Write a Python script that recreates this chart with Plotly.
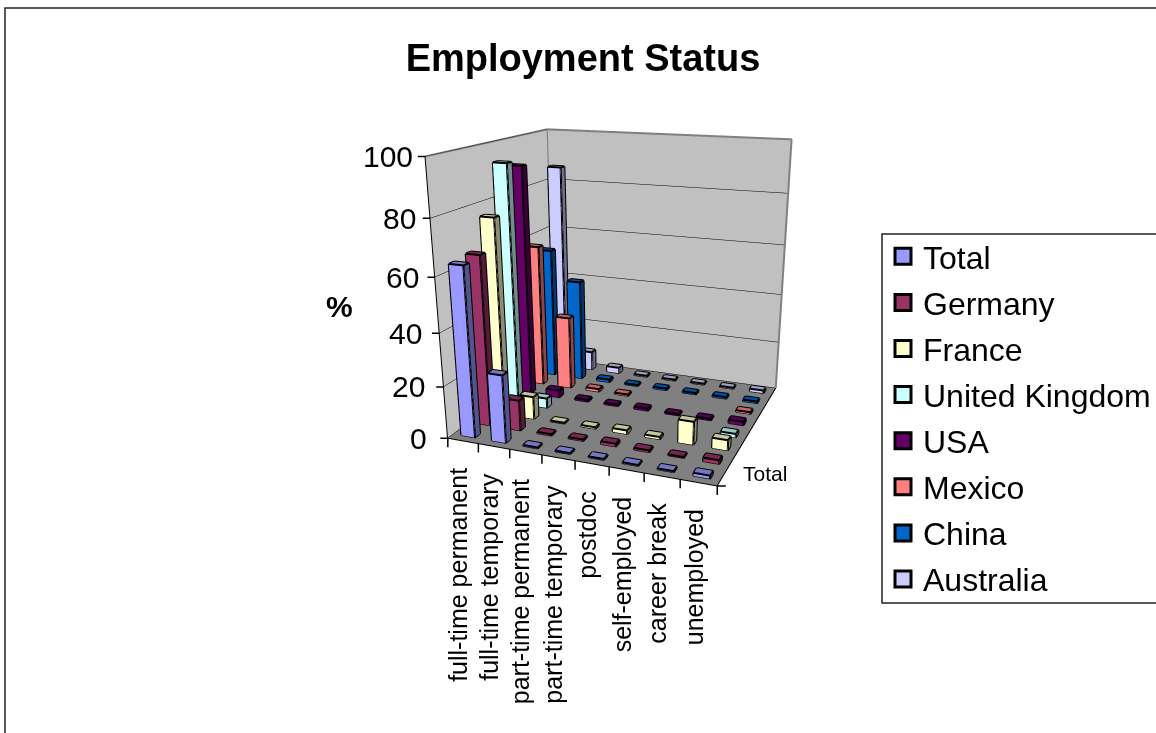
import plotly.graph_objects as go

categories = ["full-time permanent", "full-time temporary", "part-time permanent", "part-time temporary",
              "postdoc", "self-employed", "career break", "unemployed"]
series_names = ["Total", "Germany", "France", "United Kingdom", "USA", "Mexico", "China", "Australia"]
total =     [64, 26, 0.5, 0.5, 0.5, 0.5, 0.5, 1.2]
germany =   [65, 12, 0.7, 0.7, 1.2, 0.8, 0.5, 1.5]
france =    [76, 9, 0.5, 0.7, 1.5, 1.0, 9, 4]
uk =        [93.5, 4, 0, 0, 0, 0, 0, 1.5]
usa =       [91, 3, 0.8, 0.7, 1.0, 0.6, 0.7, 1.5]
mexico =    [58, 30, 1.2, 0.7, 0, 0, 0, 0.8]
china =     [54, 42, 1.2, 0.6, 0.8, 0.7, 0.8, 0.8]
australia = [86, 8, 2.5, 0.6, 0.6, 0.6, 0.6, 1.2]
values = [total, germany, france, uk, usa, mexico, china, australia]
colors = ["#9999FF", "#993366", "#FFFFCC", "#CCFFFF", "#660066", "#FF8080", "#0066CC", "#CCCCFF"]
z_ticks = [0, 20, 40, 60, 80, 100]

EYE = dict(x=1.1423, y=-2.9267, z=0.8777)
CENTER = dict(x=0.8089, y=-2.0532, z=0.5231)
ASPECT = dict(x=1.0078, y=0.8994, z=1)
BAR_X, BAR_Y = 0.45, 0.32

def shade(h, k):
    r, g, b = int(h[1:3], 16), int(h[3:5], 16), int(h[5:7], 16)
    return f"rgb({int(r*k)},{int(g*k)},{int(b*k)})"

fig = go.Figure()
for j, (name, vals, col) in enumerate(zip(series_names, values, colors)):
    X, Y, Z, I, J, K, FC = [], [], [], [], [], [], []
    lx, ly, lz = [], [], []
    for i, v in enumerate(vals):
        if v <= 0:
            continue
        x0, x1 = i + .5 - BAR_X/2, i + .5 + BAR_X/2
        y0, y1 = j + .5 - BAR_Y/2, j + .5 + BAR_Y/2
        b = len(X)
        X += [x0, x1, x1, x0, x0, x1, x1, x0]
        Y += [y0, y0, y1, y1, y0, y0, y1, y1]
        Z += [0, 0, 0, 0, v, v, v, v]
        faces = [((0,1,5),(0,5,4),1.0), ((1,2,6),(1,6,5),.55), ((4,5,6),(4,6,7),.78),
                 ((0,3,7),(0,7,4),.55), ((3,2,6),(3,6,7),.55)]
        for t1, t2, k in faces:
            for t in (t1, t2):
                I.append(b+t[0]); J.append(b+t[1]); K.append(b+t[2]); FC.append(shade(col, k))
        for a, c2 in [(0,1),(1,2),(4,5),(5,6),(6,7),(7,4),(0,4),(1,5),(2,6)]:
            lx += [X[b+a], X[b+c2], None]; ly += [Y[b+a], Y[b+c2], None]; lz += [Z[b+a], Z[b+c2], None]
    fig.add_trace(go.Mesh3d(x=X, y=Y, z=Z, i=I, j=J, k=K, facecolor=FC, flatshading=True, showlegend=False,
                            lighting=dict(ambient=1, diffuse=0, specular=0, roughness=1, fresnel=0), hoverinfo="skip"))
    fig.add_trace(go.Scatter3d(x=lx, y=ly, z=lz, mode="lines", line=dict(color="black", width=4),
                               showlegend=False, hoverinfo="skip"))
nc, ns, zm = len(categories), len(series_names), z_ticks[-1]
fig.add_trace(go.Scatter3d(x=[0, 0, nc, nc, None, 0, 0], y=[0, ns, ns, ns, None, ns, ns], z=[zm, zm, zm, 0, None, 0, zm],
                           mode="lines", line=dict(color="#808080", width=4), showlegend=False, hoverinfo="skip"))
fig.add_trace(go.Scatter3d(x=[0, 0, nc, nc], y=[0, 0, 0, ns], z=[zm, 0, 0, 0],
                           mode="lines", line=dict(color="black", width=2), showlegend=False, hoverinfo="skip"))
for name, col in zip(series_names, colors):
    fig.add_trace(go.Scatter(x=[None], y=[None], mode="markers", name=name, legendgroup=name,
                             marker=dict(symbol="square", size=16, color=col, line=dict(color="black", width=3))))

FONT = "Liberation Sans, Arial, sans-serif"
ann = [dict(x=i+.5, y=0, z=0, text=c3, showarrow=False, textangle=-90, yanchor="top", xanchor="center",
            yshift=-25, xshift=-5, font=dict(size=25, color="black", family=FONT)) for i, c3 in enumerate(categories)]
ann += [dict(x=0, y=0, z=v, text=str(v), showarrow=False, xanchor="right", yanchor="middle", xshift=-19+9*v/zm,
             font=dict(size=30, color="black", family=FONT)) for v in z_ticks]
ann += [dict(x=nc, y=.5, z=0, text="Total", showarrow=False, xanchor="left", yanchor="middle", xshift=19, yshift=5,
             font=dict(size=21, color="black", family=FONT))]
tick = dict(text=" ", showarrow=True, arrowhead=0, arrowwidth=1.5, arrowcolor="black", standoff=0, borderpad=0,
            font=dict(size=1))
ann += [dict(x=0, y=0, z=v, ax=-8, ay=0, **tick) for v in z_ticks]
ann += [dict(x=i, y=0, z=0, ax=0, ay=10, **tick) for i in range(nc+1)]
ann += [dict(x=nc, y=0, z=0, ax=9, ay=0, **tick)]

def ax3(**kw):
    d = dict(title="", showspikes=False, showticklabels=False, zeroline=False, showbackground=True,
             showline=False, ticks="")
    d.update(kw); return d
fig.update_layout(
    width=1156, height=733, margin=dict(l=0, r=0, t=0, b=0, autoexpand=False),
    paper_bgcolor="white", plot_bgcolor="rgba(0,0,0,0)",
    font=dict(family=FONT, color="black"),
    title=dict(text="<b>Employment Status</b>", x=583/1156, y=1-58/733, xanchor="center", yanchor="middle",
               font=dict(size=38, color="black", family=FONT)),
    xaxis=dict(visible=False), yaxis=dict(visible=False),
    legend=dict(x=883/1156, y=1-229/733, xanchor="left", yanchor="top", font=dict(size=32, family=FONT, color="black"),
                tracegroupgap=1.5, bgcolor="rgba(0,0,0,0)", itemwidth=30),
    shapes=[dict(type="rect", xref="paper", yref="paper", x0=5/1156, x1=1.1, y0=-.1, y1=1-8/733,
                 line=dict(color="#222222", width=1.5), layer="below"),
            dict(type="rect", xref="paper", yref="paper", x0=882/1156, x1=1.1, y0=1-603/733, y1=1-234/733,
                 line=dict(color="#222222", width=1.5), layer="below")],
    annotations=[dict(xref="paper", yref="paper", x=339/1156, y=1-307/733, xanchor="center", yanchor="middle",
                      text="<b>%</b>", showarrow=False, font=dict(size=30, color="black", family=FONT))],
    scene=dict(
        domain=dict(x=[0.08773, 1], y=[0, 1]),
        aspectmode="manual", aspectratio=ASPECT,
        camera=dict(eye=EYE, center=CENTER, up=dict(x=0, y=0, z=1), projection=dict(type="perspective")),
        xaxis=ax3(range=[0, nc], showgrid=False, backgroundcolor="#C0C0C0"),
        yaxis=ax3(range=[0, ns], showgrid=False, backgroundcolor="#C0C0C0"),
        zaxis=ax3(range=[0, zm], tickvals=z_ticks, showgrid=True, gridcolor="black", gridwidth=1,
                  backgroundcolor="#808080"),
        annotations=ann,
    ),
)
fig.write_html("out.html", config=dict(displayModeBar=False),
               post_script="document.body.style.margin='0';document.documentElement.style.overflow='hidden';")
